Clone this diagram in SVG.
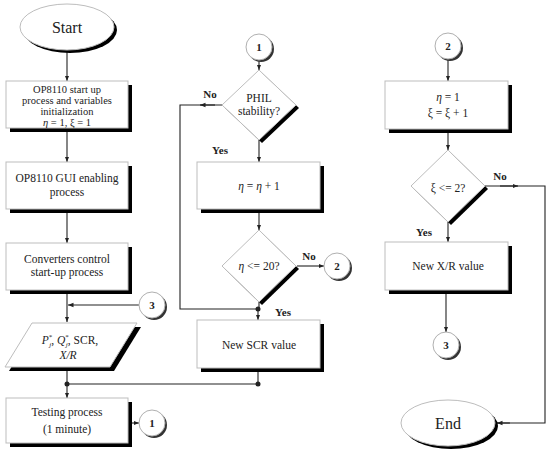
<svg xmlns="http://www.w3.org/2000/svg" width="550" height="455" viewBox="0 0 550 455">
<style>
.sh{fill:#000}
.bx{fill:#fff;stroke:#bdbdbd;stroke-width:1}
.cs{fill:#333}
.ci{fill:#fff;stroke:#b0b0b0;stroke-width:1}
text{font-family:"Liberation Serif","DejaVu Serif",serif;font-size:11.5px;fill:#222;text-anchor:middle}
.s{font-size:10.5px}
.b{font-weight:bold;font-size:11px}
.big{font-size:16px}
.ln{fill:none;stroke:#222;stroke-width:1.1}
</style>
<defs>
<marker id="a" viewBox="0 0 10 10" refX="10" refY="5" markerWidth="5" markerHeight="5" orient="auto"><path d="M0,1 L10,5 L0,9 z" fill="#222"/></marker>
</defs>
<rect width="550" height="455" fill="#fff"/>
<g id="connectors">
<path class="ln" marker-end="url(#a)" d="M67,50 V81"/>
<path class="ln" marker-end="url(#a)" d="M67,132 V162"/>
<path class="ln" marker-end="url(#a)" d="M67,213 V243"/>
<path class="ln" marker-end="url(#a)" d="M67,294 V322"/>
<path class="ln" marker-end="url(#a)" d="M139,305 H68"/>
<path class="ln" marker-end="url(#a)" d="M67,371 V398"/>
<path class="ln" d="M258,372 V384 H67"/>
<circle cx="67" cy="384" r="2.5" fill="#222"/>
<circle cx="258" cy="384" r="2.5" fill="#222"/>
<path class="ln" marker-end="url(#a)" d="M132,423 H139"/>
<path class="ln" marker-end="url(#a)" d="M259,60 V70"/>
<path class="ln" marker-end="url(#a)" d="M259,140 V162"/>
<path class="ln" d="M223,105 H180 V309 H258"/>
<path class="ln" marker-end="url(#a)" d="M215,105 H200"/>
<circle cx="258" cy="309" r="2.5" fill="#222"/>
<path class="ln" marker-end="url(#a)" d="M259,213 V230"/>
<path class="ln" marker-end="url(#a)" d="M297,266 H324"/>
<path class="ln" d="M259,302 V309"/>
<path class="ln" marker-end="url(#a)" d="M258,309 V320"/>
<path class="ln" marker-end="url(#a)" d="M448,59 V81"/>
<path class="ln" marker-end="url(#a)" d="M448,133 V150"/>
<path class="ln" marker-end="url(#a)" d="M448,222 V242"/>
<path class="ln" d="M485,186 H545 V423 H497"/>
<path class="ln" marker-end="url(#a)" d="M500,186 H518"/>
<path class="ln" marker-end="url(#a)" d="M510,423 H497"/>
<path class="ln" marker-end="url(#a)" d="M446,294 V332"/>
</g>
<g id="start">
<ellipse cx="70" cy="30" rx="47" ry="23" class="sh"/>
<ellipse cx="67" cy="27" rx="47" ry="23" class="bx"/>
<text x="67" y="33" class="big">Start</text>
</g>
<g id="init">
<rect x="10" y="85" width="122" height="47" class="sh"/>
<rect x="6" y="81" width="122" height="47" class="bx"/>
<text x="67" y="93" class="s">OP8110 start up</text>
<text x="67" y="104" class="s">process and variables</text>
<text x="67" y="115" class="s">initialization</text>
<text x="67" y="126" class="s"><tspan font-style="italic">η</tspan> = 1, ξ = 1</text>
</g>
<g id="gui">
<rect x="10" y="166" width="122" height="47" class="sh"/>
<rect x="6" y="162" width="122" height="47" class="bx"/>
<text x="67" y="182">OP8110 GUI enabling</text>
<text x="67" y="196">process</text>
</g>
<g id="conv">
<rect x="10" y="247" width="122" height="47" class="sh"/>
<rect x="6" y="243" width="122" height="47" class="bx"/>
<text x="67" y="263">Converters control</text>
<text x="67" y="276">start-up process</text>
</g>
<g id="c3left">
<circle cx="154" cy="307" r="13" class="cs"/>
<circle cx="152" cy="305" r="13" class="ci"/>
<text x="152" y="309" class="b">3</text>
</g>
<g id="params">
<polygon points="36,327 141,327 114,371 9,371" class="sh"/>
<polygon points="32,323 137,323 110,367 5,367" class="bx"/>
<text x="70" y="344"><tspan font-style="italic">P</tspan><tspan font-size="7" dy="-5">*</tspan><tspan font-size="7" font-style="italic" dx="-3" dy="8">j</tspan><tspan dy="-3">, </tspan><tspan font-style="italic">Q</tspan><tspan font-size="7" dy="-5">*</tspan><tspan font-size="7" font-style="italic" dx="-3" dy="8">j</tspan><tspan dy="-3">, SCR,</tspan></text>
<text x="68" y="359" font-style="italic">X/R</text>
</g>
<g id="testing">
<rect x="10" y="402" width="122" height="45" class="sh"/>
<rect x="6" y="398" width="122" height="45" class="bx"/>
<text x="67" y="416">Testing process</text>
<text x="67" y="433">(1 minute)</text>
</g>
<g id="c1left">
<circle cx="154" cy="425" r="13" class="cs"/>
<circle cx="152" cy="423" r="13" class="ci"/>
<text x="152" y="427" class="b">1</text>
</g>
<g id="c1top">
<circle cx="261" cy="49" r="13" class="cs"/>
<circle cx="259" cy="47" r="13" class="ci"/>
<text x="259" y="51" class="b">1</text>
</g>
<g id="phil">
<polygon points="262,73 299,108 262,143 225,108" class="sh"/>
<polygon points="259,70 296,105 259,140 222,105" class="bx"/>
<text x="259" y="102">PHIL</text>
<text x="259" y="115">stability?</text>
<text x="210" y="98" class="b">No</text>
<text x="220" y="154" class="b">Yes</text>
</g>
<g id="eta_inc">
<rect x="201" y="166" width="123" height="47" class="sh"/>
<rect x="197" y="162" width="123" height="47" class="bx"/>
<text x="259" y="190"><tspan font-style="italic">η</tspan> = <tspan font-style="italic">η</tspan> + 1</text>
</g>
<g id="eta_cond">
<polygon points="262,233 299,269 262,305 225,269" class="sh"/>
<polygon points="259,230 296,266 259,302 222,266" class="bx"/>
<text x="259" y="270"><tspan font-style="italic">η</tspan> &lt;= 20?</text>
<text x="309" y="260" class="b">No</text>
<text x="283" y="316" class="b">Yes</text>
</g>
<g id="c2mid">
<circle cx="339" cy="268" r="13" class="cs"/>
<circle cx="337" cy="266" r="13" class="ci"/>
<text x="337" y="270" class="b">2</text>
</g>
<g id="newscr">
<rect x="201" y="324" width="123" height="48" class="sh"/>
<rect x="197" y="320" width="123" height="48" class="bx"/>
<text x="259" y="349">New SCR value</text>
</g>
<g id="c2top">
<circle cx="450" cy="48" r="13" class="cs"/>
<circle cx="448" cy="46" r="13" class="ci"/>
<text x="448" y="50" class="b">2</text>
</g>
<g id="reset">
<rect x="389" y="85" width="123" height="48" class="sh"/>
<rect x="385" y="81" width="123" height="48" class="bx"/>
<text x="448" y="101"><tspan font-style="italic">η</tspan> = 1</text>
<text x="448" y="117">ξ = ξ + 1</text>
</g>
<g id="xi_cond">
<polygon points="451,153 488,189 451,225 414,189" class="sh"/>
<polygon points="448,150 485,186 448,222 411,186" class="bx"/>
<text x="448" y="192">ξ &lt;= 2?</text>
<text x="500" y="180" class="b">No</text>
<text x="424" y="236" class="b">Yes</text>
</g>
<g id="newxr">
<rect x="389" y="246" width="123" height="48" class="sh"/>
<rect x="385" y="242" width="123" height="48" class="bx"/>
<text x="448" y="270">New X/R value</text>
</g>
<g id="c3right">
<circle cx="448" cy="347" r="13" class="cs"/>
<circle cx="446" cy="345" r="13" class="ci"/>
<text x="446" y="349" class="b">3</text>
</g>
<g id="end">
<ellipse cx="451" cy="426" rx="47" ry="23" class="sh"/>
<ellipse cx="448" cy="423" rx="47" ry="23" class="bx"/>
<text x="448" y="429" class="big">End</text>
</g>
</svg>
